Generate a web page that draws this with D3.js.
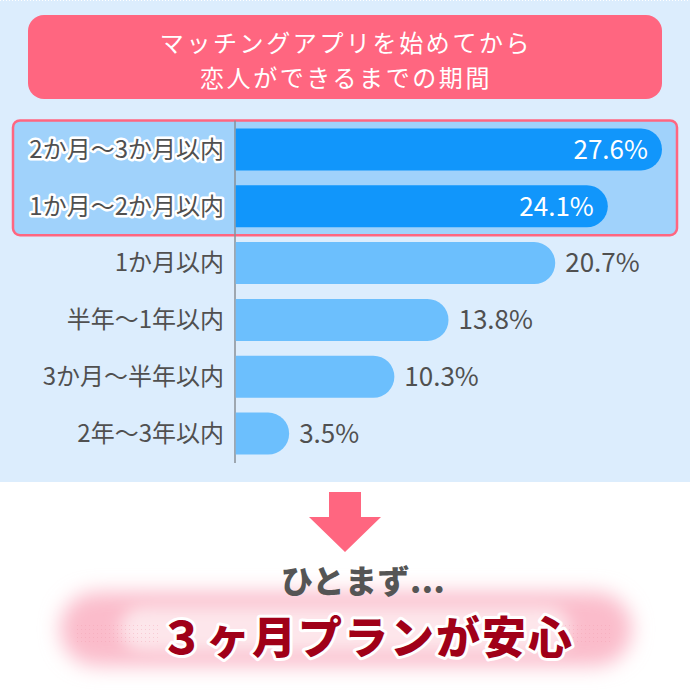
<!DOCTYPE html>
<html><head><meta charset="utf-8">
<script src="https://cdn.jsdelivr.net/npm/d3@7"></script>
<style>html,body{margin:0;padding:0;background:#fff}svg{display:block}</style>
</head><body>
<svg id="c" width="690" height="690"></svg>
<script>
const categories = ["2か月～3か月以内","1か月～2か月以内","1か月以内","半年～1年以内","3か月～半年以内","2年～3年以内"];
const values = [27.6, 24.1, 20.7, 13.8, 10.3, 3.5];
const highlighted = [true, true, false, false, false, false];
const titleLines = ["マッチングアプリを始めてから","恋人ができるまでの期間"];
const subText = "ひとまず...";
const mainText = "３ヶ月プランが安心";

const FONT = "'Noto Sans CJK JP','Noto Sans',sans-serif";
const svg = d3.select("#c");
const defs = svg.append("defs");
const blur = defs.append("filter").attr("id","glow").attr("x","-20%").attr("y","-60%").attr("width","140%").attr("height","220%");
blur.append("feGaussianBlur").attr("stdDeviation", 10);
const blur2 = defs.append("filter").attr("id","glow2").attr("x","-20%").attr("y","-60%").attr("width","140%").attr("height","220%");
blur2.append("feGaussianBlur").attr("stdDeviation", 8);
const pat = defs.append("pattern").attr("id","dots").attr("patternUnits","userSpaceOnUse").attr("width",4).attr("height",4);
pat.append("rect").attr("x",1).attr("y",1).attr("width",1).attr("height",1).attr("fill","#f09aab");

// backgrounds
svg.append("rect").attr("x",0).attr("y",0).attr("width",690).attr("height",482).attr("fill","#dcedfd");
svg.append("line").attr("x1",0).attr("x2",690).attr("y1",0.5).attr("y2",0.5).attr("stroke","#fff").attr("stroke-dasharray","1,2");

// title (one text, two lines)
svg.append("rect").attr("x",28).attr("y",15).attr("width",634).attr("height",84).attr("rx",16).attr("fill","#ff6680");
svg.append("text").attr("text-anchor","middle")
  .attr("font-family",FONT).attr("font-size",24).attr("letter-spacing",2.6).attr("fill","#fff")
  .selectAll("tspan").data(titleLines).join("tspan")
  .attr("x",346).attr("y",(d,i)=>52+i*35).text(d=>d);

// scales
const x = d3.scaleLinear().domain([0, 30]).range([235, 235 + 30*15.47]);
const y = d3.scaleBand().domain(categories).range([121, 462]).paddingInner(0.26).paddingOuter(0.13);
const bw = y.bandwidth();

// highlight box
const hl = categories.filter((c,i)=>highlighted[i]);
const hTop = y(hl[0]) - 8, hBot = y(hl[hl.length-1]) + bw + 8;
svg.append("rect").attr("x",13).attr("y",hTop).attr("width",664).attr("height",hBot-hTop).attr("rx",7)
  .attr("fill","#a0d2fb").attr("stroke","#ff6680").attr("stroke-width",2.5);

// axis line
svg.append("line").attr("x1",x(0)).attr("x2",x(0)).attr("y1",hTop).attr("y2",463).attr("stroke","#8a8f96").attr("stroke-width",1.5);

const data = categories.map((c,i)=>({c, v:values[i], h:highlighted[i]}));
function barPath(d){
  const x0 = x(0)+0.75, x1 = x(d.v), y0 = y(d.c), r = bw/2;
  const p = d3.path();
  p.moveTo(x0, y0); p.lineTo(x1 - r, y0);
  p.arc(x1 - r, y0 + r, r, -Math.PI/2, Math.PI/2);
  p.lineTo(x0, y0 + bw); p.closePath();
  return p.toString();
}
svg.append("g").selectAll("path").data(data).join("path")
  .attr("d", barPath).attr("fill", d=>d.h ? "#1196fb" : "#6cbffd");

// category labels
const lab = svg.append("g");
lab.selectAll("text.o").data(data.filter(d=>d.h)).join("text")
  .attr("x",224).attr("y",d=>y(d.c)+bw/2).attr("dy","0.35em").attr("text-anchor","end")
  .attr("font-family",FONT).attr("font-size",24).attr("fill","none").attr("stroke","#fff").attr("stroke-width",5).attr("stroke-linejoin","round")
  .text(d=>d.c);
lab.selectAll("text.l").data(data).join("text")
  .attr("x",224).attr("y",d=>y(d.c)+bw/2).attr("dy","0.35em").attr("text-anchor","end")
  .attr("font-family",FONT).attr("font-size",24).attr("fill","#505050")
  .text(d=>d.c);

// value labels
svg.append("g").selectAll("text").data(data).join("text")
  .attr("x",d=>d.h ? x(d.v)-14 : x(d.v)+10).attr("y",d=>y(d.c)+bw/2).attr("dy","0.36em")
  .attr("text-anchor",d=>d.h ? "end":"start")
  .attr("font-family",FONT).attr("font-size",26).attr("fill",d=>d.h?"#fff":"#505050")
  .text(d=>d.v.toFixed(1)+"%");

// arrow
svg.append("path").attr("d","M329,492 L361,492 L361,517 L381,517 L345,552 L309,517 L329,517 Z").attr("fill","#ff6680");

// glow
svg.append("rect").attr("x",60).attr("y",592).attr("width",572).attr("height",74).attr("rx",37)
  .attr("fill","#fbbccb").attr("filter","url(#glow)");
svg.append("rect").attr("x",120).attr("y",606).attr("width",450).attr("height",46).attr("rx",23)
  .attr("fill","#fde6eb").attr("filter","url(#glow2)");
svg.append("rect").attr("x",77).attr("y",625).attr("width",84).attr("height",20).attr("fill","url(#dots)").attr("opacity",0.35);
svg.append("rect").attr("x",563).attr("y",625).attr("width",48).attr("height",20).attr("fill","url(#dots)").attr("opacity",0.35);

// sub text
svg.append("text").attr("x",363).attr("y",593).attr("text-anchor","middle")
  .attr("font-family",FONT).attr("font-weight",900).attr("font-size",32).attr("letter-spacing",0.5).attr("fill","#555").text(subText);

// main text
const mt = svg.append("g");
mt.append("text").attr("x",367).attr("y",654).attr("text-anchor","middle")
  .attr("font-family",FONT).attr("font-weight",900).attr("font-size",44).attr("letter-spacing",2)
  .attr("fill","none").attr("stroke","#fff").attr("stroke-width",6).attr("stroke-linejoin","round").text(mainText);
mt.append("text").attr("x",367).attr("y",654).attr("text-anchor","middle")
  .attr("font-family",FONT).attr("font-weight",900).attr("font-size",44).attr("letter-spacing",2)
  .attr("fill","#a00018").text(mainText);
</script>
</body></html>
